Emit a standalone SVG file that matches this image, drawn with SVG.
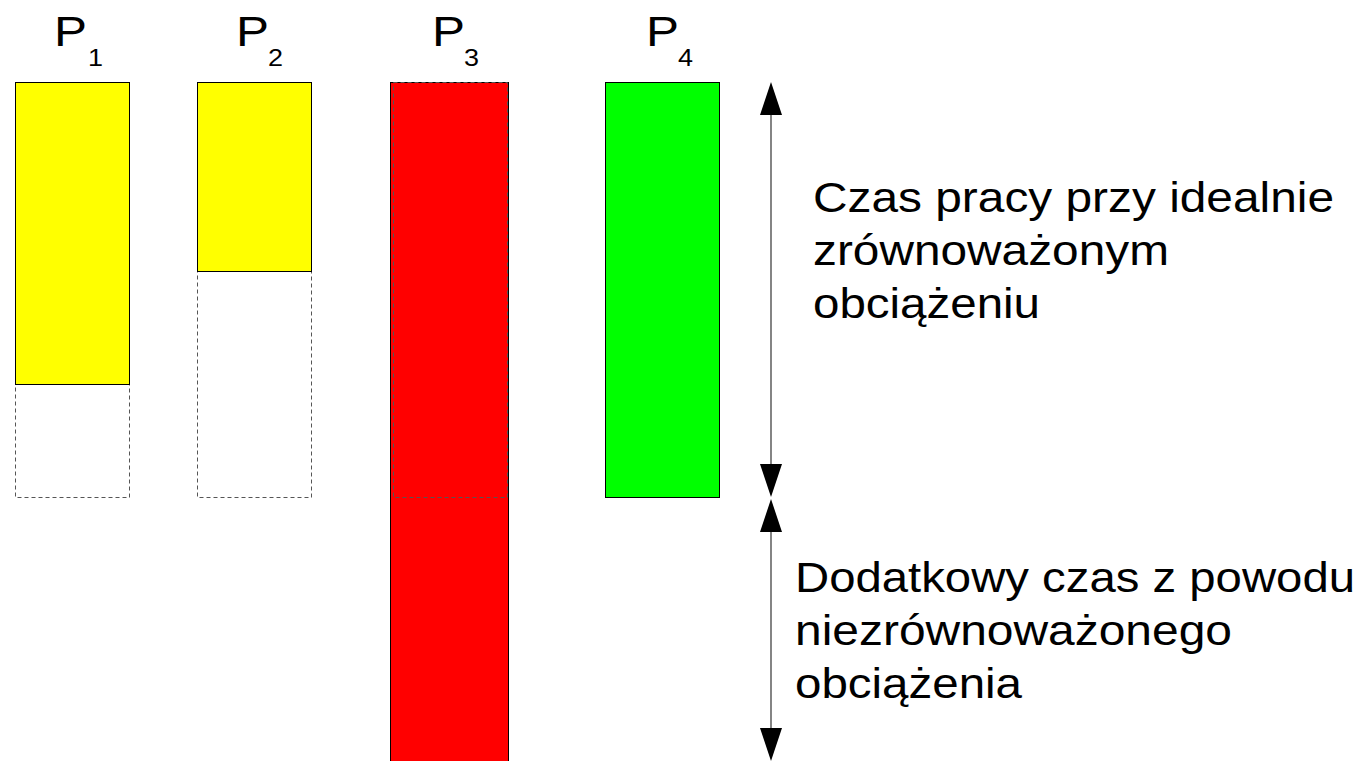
<svg xmlns="http://www.w3.org/2000/svg" width="1365" height="761" viewBox="0 0 1365 761">
  <style>
    text { font-family: "Liberation Sans", Arial, sans-serif; fill: #000; }
    .lbl { font-size: 42px; }
    .sub { font-size: 23px; }
    .note { font-size: 42px; }
    .bar { stroke: #000; stroke-width: 1; }
    .ghost { fill: none; stroke: #555; stroke-width: 1; stroke-dasharray: 4 3; }
    .dim { stroke: #333; stroke-width: 1.2; }
    .head { fill: #000; }
  </style>
  <rect width="1365" height="761" fill="#fff"/>

  <g id="p1">
    <rect class="ghost" x="15.5" y="82.5" width="114" height="415"/>
    <rect class="bar" x="15.5" y="82.5" width="114" height="302" fill="#ffff00"/>
    <text class="lbl" x="54" y="46" textLength="33" lengthAdjust="spacingAndGlyphs">P</text>
    <text class="sub" x="88" y="66" textLength="15" lengthAdjust="spacingAndGlyphs">1</text>
  </g>

  <g id="p2">
    <rect class="ghost" x="197.5" y="82.5" width="114" height="415"/>
    <rect class="bar" x="197.5" y="82.5" width="114" height="189" fill="#ffff00"/>
    <text class="lbl" x="236" y="46" textLength="33" lengthAdjust="spacingAndGlyphs">P</text>
    <text class="sub" x="268" y="66" textLength="15" lengthAdjust="spacingAndGlyphs">2</text>
  </g>

  <g id="p3">
    <rect class="bar" x="390.5" y="82.5" width="118" height="690" fill="#ff0000"/>
    <rect class="ghost" x="393.5" y="82.5" width="114" height="415" stroke="#000"/>
    <text class="lbl" x="432" y="46" textLength="33" lengthAdjust="spacingAndGlyphs">P</text>
    <text class="sub" x="464" y="66" textLength="15" lengthAdjust="spacingAndGlyphs">3</text>
  </g>

  <g id="p4">
    <rect class="bar" x="605.5" y="82.5" width="114" height="415" fill="#00ff00"/>
    <text class="lbl" x="646" y="46" textLength="33" lengthAdjust="spacingAndGlyphs">P</text>
    <text class="sub" x="678" y="66" textLength="15" lengthAdjust="spacingAndGlyphs">4</text>
  </g>

  <g id="connectors">
    <line class="dim" x1="771" y1="110" x2="771" y2="470"/>
    <polygon class="head" points="771,82 760,115 782,115"/>
    <polygon class="head" points="771,497 760,464 782,464"/>
    <line class="dim" x1="771" y1="525" x2="771" y2="735"/>
    <polygon class="head" points="771,499 760,532 782,532"/>
    <polygon class="head" points="771,761 760,728 782,728"/>
  </g>

  <g id="note-balanced">
    <text class="note" x="813" y="212" textLength="521" lengthAdjust="spacingAndGlyphs">Czas pracy przy idealnie</text>
    <text class="note" x="813" y="265" textLength="356" lengthAdjust="spacingAndGlyphs">zrównoważonym</text>
    <text class="note" x="813" y="318" textLength="227" lengthAdjust="spacingAndGlyphs">obciążeniu</text>
  </g>

  <g id="note-imbalance">
    <text class="note" x="795" y="592" textLength="560" lengthAdjust="spacingAndGlyphs">Dodatkowy czas z powodu</text>
    <text class="note" x="795" y="645" textLength="437" lengthAdjust="spacingAndGlyphs">niezrównoważonego</text>
    <text class="note" x="795" y="698" textLength="227" lengthAdjust="spacingAndGlyphs">obciążenia</text>
  </g>
</svg>
